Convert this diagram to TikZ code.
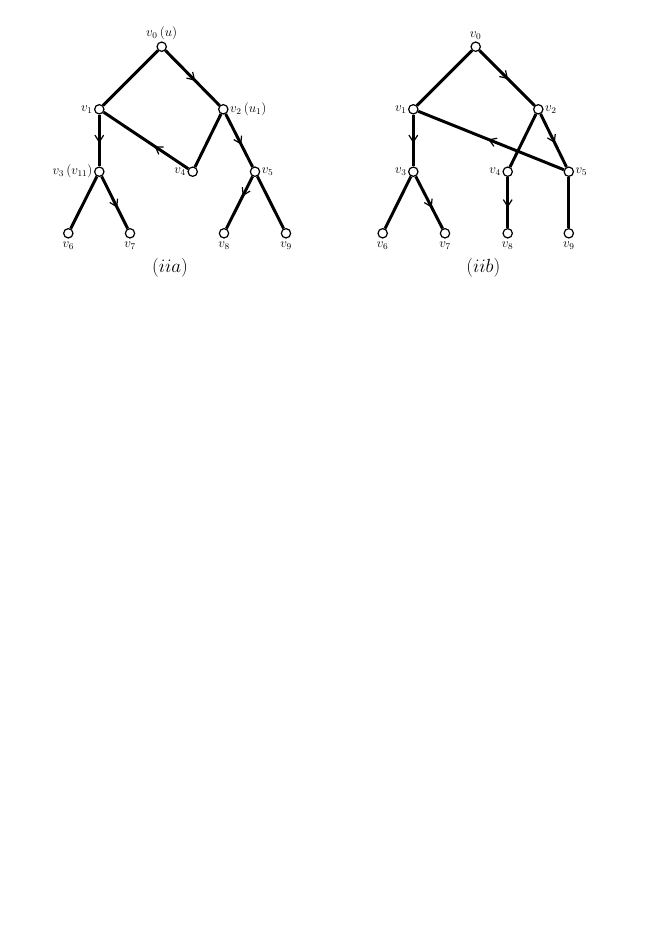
\documentclass[tikz,border=0pt]{standalone}
\usetikzlibrary{arrows.meta,decorations.markings}
\begin{document}
\begin{tikzpicture}[x=0.9102pt,y=-0.9102pt,
  vtx/.style={circle,draw,fill=white,line width=1.1pt,minimum size=8.5pt,inner sep=0pt},
  lab/.style={font=\fontsize{12}{14}\selectfont,inner sep=1.2pt},
  blab/.style={lab,label distance=1.5pt},
  edge/.style={line width=2.7pt},
  marr/.style={postaction={decorate},decoration={markings,mark=at position #1 with {\arrow{Straight Barb[length=2.2mm,width=2.8mm,line width=1.1pt]}}}},
  captext/.style={font=\fontsize{16.5}{19}\selectfont}]
\useasboundingbox (0,0) rectangle (654,925);
% left graph (iia)
\node[vtx,label={[lab,label distance=0pt]above:$v_0\,(u)$}] (a0) at (161.7,46.7) {};
\node[vtx,label={[lab]left:$v_1$}] (a1) at (99.3,109.3) {};
\node[vtx,label={[lab]right:$v_2\,(u_1)$}] (a2) at (223.3,109.3) {};
\node[vtx,label={[lab]left:$v_3\,(v_{11})$}] (a3) at (99.3,171.7) {};
\node[vtx,label={[lab]left:$v_4$}] (a4) at (192.7,171.7) {};
\node[vtx,label={[lab]right:$v_5$}] (a5) at (255,171.7) {};
\node[vtx,label={[blab]below:$v_6$}] (a6) at (68.3,233.3) {};
\node[vtx,label={[blab]below:$v_7$}] (a7) at (130,233.3) {};
\node[vtx,label={[blab]below:$v_8$}] (a8) at (224,233.3) {};
\node[vtx,label={[blab]below:$v_9$}] (a9) at (286,233.3) {};
\node[captext] (capa) at (170,268) {$(iia)$};
\draw[edge] (a0) -- (a1);
\draw[edge,marr=0.55] (a0) -- (a2);
\draw[edge,marr=0.55] (a1) -- (a3);
\draw[edge,marr=0.4] (a4) -- (a1);
\draw[edge] (a2) -- (a4);
\draw[edge,marr=0.58] (a2) -- (a5);
\draw[edge] (a3) -- (a6);
\draw[edge,marr=0.6] (a3) -- (a7);
\draw[edge,marr=0.38] (a5) -- (a8);
\draw[edge] (a5) -- (a9);
% right graph (iib)
\node[vtx,label={[lab]above:$v_0$}] (b0) at (475.7,46.7) {};
\node[vtx,label={[lab]left:$v_1$}] (b1) at (413.3,109.3) {};
\node[vtx,label={[lab]right:$v_2$}] (b2) at (538.3,109.3) {};
\node[vtx,label={[lab]left:$v_3$}] (b3) at (413.3,171.7) {};
\node[vtx,label={[lab]left:$v_4$}] (b4) at (507.7,171.7) {};
\node[vtx,label={[lab]right:$v_5$}] (b5) at (568.8,171.7) {};
\node[vtx,label={[blab]below:$v_6$}] (b6) at (382.7,233.3) {};
\node[vtx,label={[blab]below:$v_7$}] (b7) at (445,233.3) {};
\node[vtx,label={[blab]below:$v_8$}] (b8) at (507.7,233.3) {};
\node[vtx,label={[blab]below:$v_9$}] (b9) at (568.8,233.3) {};
\node[captext] (capb) at (483.3,268) {$(iib)$};
\draw[edge] (b0) -- (b1);
\draw[edge,marr=0.52] (b0) -- (b2);
\draw[edge,marr=0.55] (b1) -- (b3);
\draw[edge,marr=0.52] (b5) -- (b1);
\draw[edge] (b2) -- (b4);
\draw[edge,marr=0.55] (b2) -- (b5);
\draw[edge] (b3) -- (b6);
\draw[edge,marr=0.6] (b3) -- (b7);
\draw[edge,marr=0.6] (b4) -- (b8);
\draw[edge] (b5) -- (b9);
\end{tikzpicture}
\end{document}
